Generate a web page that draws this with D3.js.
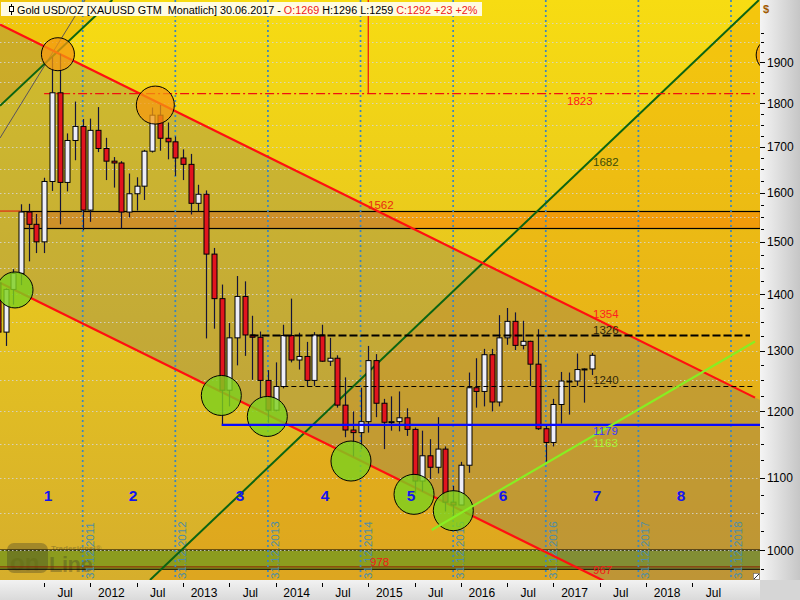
<!DOCTYPE html>
<html><head><meta charset="utf-8">
<script src="https://cdn.jsdelivr.net/npm/d3@7"></script>
<style>html,body{margin:0;padding:0;background:#fff;overflow:hidden}svg{display:block;font-family:"Liberation Sans",Arial,sans-serif}</style>
</head><body><svg id="c" width="800" height="600"></svg>
<script>
// ---------------- DATA ----------------
const months = ["2011-01","2011-02","2011-03","2011-04","2011-05","2011-06","2011-07","2011-08","2011-09","2011-10","2011-11","2011-12",
"2012-01","2012-02","2012-03","2012-04","2012-05","2012-06","2012-07","2012-08","2012-09","2012-10","2012-11","2012-12",
"2013-01","2013-02","2013-03","2013-04","2013-05","2013-06","2013-07","2013-08","2013-09","2013-10","2013-11","2013-12",
"2014-01","2014-02","2014-03","2014-04","2014-05","2014-06","2014-07","2014-08","2014-09","2014-10","2014-11","2014-12",
"2015-01","2015-02","2015-03","2015-04","2015-05","2015-06","2015-07","2015-08","2015-09","2015-10","2015-11","2015-12",
"2016-01","2016-02","2016-03","2016-04","2016-05","2016-06","2016-07","2016-08","2016-09","2016-10","2016-11","2016-12",
"2017-01","2017-02","2017-03","2017-04","2017-05","2017-06"];
const open  = [1421,1332,1409,1439,1560,1535,1500,1624,1825,1622,1714,1746, 1564,1737,1696,1668,1664,1560,1598,1614,1690,1772,1719,1711,
               1675,1661,1578,1597,1476,1392,1234,1322,1396,1327,1323,1250, 1202,1240,1326,1284,1290,1250,1327,1282,1287,1210,1171,1167,
               1184,1283,1213,1183,1184,1190,1172,1095,1132,1115,1142,1065, 1061,1118,1238,1232,1293,1215,1322,1351,1309,1316,1277,1173,
               1152,1211,1249,1249,1268,1269];
const high  = [1424,1411,1447,1576,1577,1556,1632,1913,1921,1730,1804,1763, 1764,1791,1720,1677,1668,1641,1633,1693,1790,1796,1755,1723,
               1694,1684,1617,1605,1488,1418,1348,1434,1424,1361,1333,1267, 1280,1345,1392,1331,1315,1332,1345,1322,1292,1255,1200,1238,
               1308,1294,1220,1224,1232,1205,1175,1170,1157,1191,1146,1088, 1123,1263,1287,1303,1303,1362,1375,1367,1352,1317,1337,1180,
               1220,1264,1263,1295,1270,1296];
const low   = [1308,1308,1381,1417,1462,1478,1478,1604,1535,1603,1670,1523, 1540,1688,1627,1611,1527,1549,1563,1585,1687,1691,1672,1636,
               1627,1555,1562,1321,1338,1180,1208,1275,1291,1251,1221,1182, 1200,1237,1280,1268,1240,1241,1281,1274,1206,1160,1131,1142,
               1167,1191,1142,1170,1169,1162,1077,1080,1098,1106,1052,1046, 1061,1107,1206,1208,1200,1208,1310,1301,1302,1241,1171,1123,
               1146,1181,1195,1241,1214,1259];
const close = [1332,1409,1439,1560,1535,1500,1624,1825,1622,1714,1746,1564, 1737,1696,1668,1664,1560,1598,1614,1690,1772,1719,1711,1675,
               1661,1578,1597,1476,1392,1234,1322,1396,1327,1323,1250,1202, 1240,1326,1284,1290,1250,1327,1282,1287,1210,1171,1167,1184,
               1283,1213,1183,1184,1190,1172,1095,1132,1115,1142,1065,1061, 1118,1238,1232,1293,1215,1322,1351,1309,1316,1277,1173,1152,
               1211,1249,1249,1268,1269,1292];

const yTicks = [1000,1100,1200,1300,1400,1500,1600,1700,1800,1900];
const xTickDates  = ["2011-07","2012-01","2012-07","2013-01","2013-07","2014-01","2014-07","2015-01","2015-07","2016-01","2016-07","2017-01","2017-07","2018-01","2018-07"];
const xTickLabels = ["Jul","2012","Jul","2013","Jul","2014","Jul","2015","Jul","2016","Jul","2017","Jul","2018","Jul"];
const yearEndDates  = ["2011-12","2012-12","2013-12","2014-12","2015-12","2016-12","2017-12","2018-12"];
const yearEndLabels = ["31.12.2011","31.12.2012","31.12.2013","31.12.2014","31.12.2015","31.12.2016","31.12.2017","31.12.2018"];

// horizontal levels
const level1823 = 1823, band1562 = [1527,1562], level1326 = 1326, level1240 = 1240, level1179 = 1179;
const bandGreen = [975,1000], level978 = 978;

// trend lines: [monthIndex, price] endpoints
const upperRed  = [[0.285,1996.6],[98.11,1222.0]];
const lowerRed  = [[0.285,1421.5],[79.35,956.3]];
const greenMain = [[19.72,961.3],[98.62,2062]];
const greenTop  = [[0.285,1794],[14.84,2062]];
const thinLine  = [[0.285,1719.6],[11.3,2062]];
const limeLine  = [[56.22,1026.7],[98.11,1315.6]];

// marker circles: [monthIndex, price]
const orangeCircles = [[7.79,1920],[20.41,1795.7],[100.4,1918]];
const greenCircles  = [[2.23,1408],[28.96,1225.5],[34.92,1192.1],[45.76,1124.2],[53.93,1076.0],[59.02,1053.1]];

// wave numbers
const waveLabels = ["1","2","3","4","5","6","7","8"];
const waveMonths = [6.5,17.52,31.38,42.39,53.54,65.46,77.64,88.53];
const wavePrice = 1066;

// value labels
const valLabels = ["1823","1682","1562","1354","1326","1240","1179","1163","978","967"];

const header = {name:"Gold USD/OZ [XAUUSD GTM  Monatlich] 30.06.2017 - ", o:"O:1269", hl:" H:1296 L:1259 ", c:"C:1292 +23 +2%"};

// ---------------- DRAW ----------------
const W=800,H=600, PW=760, PH=580;
const mi = s => { const [Y,M]=s.split("-").map(Number); return (Y-2011)*12+M-1; };
const x = d3.scaleLinear().domain([11,95]).range([82.7,731]);
const y = d3.scaleLog().domain([1000,2000]).range([550,550-1750*Math.log10(2)]);

const svg = d3.select("#c");
const defs = svg.append("defs");
defs.append("clipPath").attr("id","plot").append("rect").attr("x",0).attr("y",0).attr("width",PW).attr("height",PH);
const bg = defs.append("linearGradient").attr("id","bg").attr("x1",0).attr("y1",0).attr("x2",0).attr("y2",1);
bg.append("stop").attr("offset","0%").attr("stop-color","#f7dc12");
bg.append("stop").attr("offset","100%").attr("stop-color","#d6ae2c");
const ra = defs.append("linearGradient").attr("id","ra").attr("x1",0).attr("y1",0).attr("x2",1).attr("y2",0);
ra.append("stop").attr("offset","0%").attr("stop-color","#f4f4f4");
ra.append("stop").attr("offset","100%").attr("stop-color","#c6c6c6");
const ba = defs.append("linearGradient").attr("id","ba").attr("x1",0).attr("y1",0).attr("x2",0).attr("y2",1);
ba.append("stop").attr("offset","0%").attr("stop-color","#f2f2f2");
ba.append("stop").attr("offset","100%").attr("stop-color","#dadada");

// axes backgrounds
svg.append("rect").attr("x",PW).attr("y",0).attr("width",W-PW).attr("height",H).attr("fill","url(#ra)");
svg.append("rect").attr("x",0).attr("y",PH).attr("width",PW).attr("height",H-PH).attr("fill","url(#ba)");
svg.append("rect").attr("x",PW).attr("y",PH).attr("width",W-PW).attr("height",H-PH).attr("fill","#d6d6d6");

const P = svg.append("g").attr("clip-path","url(#plot)");
P.append("rect").attr("width",PW).attr("height",PH).attr("fill","url(#bg)");

function seg(s){ const x1=x(s[0][0]),y1=y(s[0][1]),x2=x(s[1][0]),y2=y(s[1][1]); const k=(y2-y1)/(x2-x1);
  return {x1,y1,x2,y2,k,f:X=>y1+k*(X-x1),inv:Y=>x1+(Y-y1)/k}; }
const U=seg(upperRed), L=seg(lowerRed), G=seg(greenMain), T=seg(greenTop), S=seg(thinLine), Li=seg(limeLine);
const poly = pts => "M"+pts.map(p=>p.join(",")).join("L")+"Z";

// orange band (1527-1562)
const bx0 = x(mi("2011-04"));
P.append("rect").attr("x",bx0).attr("y",y(band1562[1])).attr("width",PW-bx0).attr("height",y(band1562[0])-y(band1562[1]))
 .attr("fill","#f29a0e").attr("opacity",0.9);
// outside green channel -> orange tint
P.append("path").attr("d",poly([[G.inv(-20),-20],[820,-20],[820,620],[G.inv(620),620]])).attr("fill","#f09000").attr("opacity",0.27);
P.append("path").attr("d",poly([[-20,-20],[T.inv(-20),-20],[-20,T.f(-20)]])).attr("fill","#e09000").attr("opacity",0.27);
// green band bottom
P.append("rect").attr("x",0).attr("y",y(bandGreen[1])).attr("width",PW).attr("height",y(bandGreen[0])-y(bandGreen[1]))
 .attr("fill","#8c9c1e");
// red channel -> grey tint
P.append("path").attr("d",poly([[-20,U.f(-20)],[820,U.f(820)],[820,L.f(820)],[-20,L.f(-20)]])).attr("fill","#646478").attr("opacity",0.25);

// watermark
const wm = P.append("g").attr("opacity",0.34);
wm.append("rect").attr("x",7).attr("y",543).attr("width",41).attr("height",30).attr("rx",7).attr("fill","#3c3c28");
wm.append("text").attr("x",10).attr("y",571).attr("font-size",24).attr("font-weight","bold").attr("fill","#2a2a18").text("on");
wm.append("text").attr("x",49).attr("y",572).attr("font-size",22).attr("font-weight","bold").attr("fill","#3c3c28").attr("letter-spacing",-0.5).text("Line");
wm.append("text").attr("x",51).attr("y",551).attr("font-size",8).attr("font-weight","bold").attr("fill","#3c3c28").text("Tradesignal®");

// band borders
P.append("line").attr("x1",0).attr("x2",bx0).attr("y1",y(band1562[1])).attr("y2",y(band1562[1])).attr("stroke","#e01010").attr("stroke-width",1);
P.append("rect").attr("x",bx0+0.5).attr("y",Math.round(y(band1562[1]))+0.5).attr("width",PW-bx0).attr("height",Math.round(y(band1562[0])-y(band1562[1])))
 .attr("fill","none").attr("stroke","#000").attr("stroke-width",1.2);
P.append("line").attr("x1",0).attr("x2",PW).attr("y1",y(bandGreen[1])).attr("y2",y(bandGreen[1])).attr("stroke","#000").attr("stroke-width",1.2);
P.append("line").attr("x1",0).attr("x2",PW).attr("y1",y(bandGreen[0])).attr("y2",y(bandGreen[0])).attr("stroke","#000").attr("stroke-width",1.2);
P.append("line").attr("x1",0).attr("x2",PW).attr("y1",y(level978)).attr("y2",y(level978)).attr("stroke","#8a1a00").attr("stroke-width",1);

// horizontal dotted grid every 50
const grid = d3.range(1000,2001,50);
P.selectAll("line.hg").data(grid).join("line").attr("class","hg")
 .attr("x1",0).attr("x2",PW).attr("y1",d=>Math.round(y(d))+0.5).attr("y2",d=>Math.round(y(d))+0.5)
 .attr("stroke","#d6d6d2").attr("stroke-width",1).attr("stroke-dasharray","1.5,2.5").attr("opacity",0.85);

// year-end dotted verticals + rotated labels
P.selectAll("line.ye").data(yearEndDates).join("line").attr("class","ye")
 .attr("x1",d=>x(mi(d))).attr("x2",d=>x(mi(d))).attr("y1",0).attr("y2",PH)
 .attr("stroke","#3a86c2").attr("stroke-width",1.7).attr("stroke-dasharray","2,3");
P.selectAll("text.ye").data(yearEndDates).join("text").attr("class","ye")
 .attr("transform",d=>`translate(${x(mi(d))+11},579) rotate(-90)`)
 .attr("font-size",11.5).attr("fill","#4f8ea6").text((d,i)=>yearEndLabels[i]);

// trend lines under candles
const drawSeg=(s,col,w)=>P.append("line").attr("x1",s.x1).attr("y1",s.y1).attr("x2",s.x2).attr("y2",s.y2).attr("stroke",col).attr("stroke-width",w);
drawSeg(S,"#3a3a6a",0.8);
drawSeg(T,"#0b6412",2);
drawSeg(G,"#0b6412",2);
drawSeg(U,"#ff1010",2.2);
drawSeg(L,"#ff1010",2.2);

// 1823 dash-dot and red vertical
P.append("line").attr("x1",x(mi("2011-07"))).attr("x2",755).attr("y1",y(level1823)).attr("y2",y(level1823))
 .attr("stroke","#f01010").attr("stroke-width",1.2).attr("stroke-dasharray","9,3,2,3");
P.append("line").attr("x1",x(mi("2015-01"))).attr("x2",x(mi("2015-01"))).attr("y1",0).attr("y2",y(level1823))
 .attr("stroke","#f01010").attr("stroke-width",1.2);

// candles
const idx = d3.range(months.length);
const C = P.append("g");
C.selectAll("line.w").data(idx).join("line").attr("class","w")
 .attr("x1",i=>Math.round(x(i))+0.5).attr("x2",i=>Math.round(x(i))+0.5)
 .attr("y1",i=>y(high[i])).attr("y2",i=>y(low[i])).attr("stroke","#14143a").attr("stroke-width",1.2);
C.selectAll("rect.b").data(idx).join("rect").attr("class","b")
 .attr("x",i=>Math.round(x(i))-2).attr("width",5)
 .attr("y",i=>y(Math.max(open[i],close[i])))
 .attr("height",i=>Math.max(1,y(Math.min(open[i],close[i]))-y(Math.max(open[i],close[i]))))
 .attr("fill",i=>close[i]>open[i]?"#eeeef8":(close[i]<open[i]?"#e2141e":"#14143a"))
 .attr("stroke","#000").attr("stroke-width",1);

// circles
P.selectAll("circle.o").data(orangeCircles).join("circle").attr("class","o")
 .attr("cx",d=>x(d[0])).attr("cy",d=>y(d[1])).attr("r",(d,i)=>i===1?19:16.5)
 .attr("fill","#f49a12").attr("fill-opacity",0.75).attr("stroke","#000").attr("stroke-width",1);
P.selectAll("circle.g").data(greenCircles).join("circle").attr("class","g")
 .attr("cx",d=>x(d[0])).attr("cy",d=>y(d[1])).attr("r",(d,i)=>i===0?18:20)
 .attr("fill","#7ed01e").attr("fill-opacity",0.82).attr("stroke","#000").attr("stroke-width",1);

// level lines on top
P.append("line").attr("x1",x(mi("2013-06"))).attr("x2",PW).attr("y1",y(level1179)).attr("y2",y(level1179)).attr("stroke","#0a0aff").attr("stroke-width",2.2);
P.append("line").attr("x1",x(mi("2013-10"))-2).attr("x2",750).attr("y1",y(level1326)).attr("y2",y(level1326))
 .attr("stroke","#000").attr("stroke-width",2).attr("stroke-dasharray","8,3");
P.append("line").attr("x1",x(mi("2014-02"))).attr("x2",755).attr("y1",y(level1240)).attr("y2",y(level1240))
 .attr("stroke","#000").attr("stroke-width",1).attr("stroke-dasharray","5,3");
drawSeg(Li,"#88ee22",2.2);

// wave numbers
P.selectAll("text.wv").data(waveLabels).join("text").attr("class","wv")
 .attr("x",(d,i)=>x(waveMonths[i])).attr("y",y(wavePrice)).attr("text-anchor","middle")
 .attr("font-size",15.5).attr("font-weight","bold").attr("fill","#1414f0").text(d=>d);

// value labels
const cur = x(months.length-1);
const vlPos = {
 "1823":{x:567,y:y(level1823)+11.5,c:"#ff1a1a"},
 "1682":{x:cur+1,y:166,c:"#3c4c08"},
 "1562":{x:368,y:y(band1562[1])-2,c:"#e82a10"},
 "1354":{x:cur+1,y:318,c:"#ff2020"},
 "1326":{x:cur+1,y:y(level1326)-1.5,c:"#302808"},
 "1240":{x:cur+1,y:y(level1240)-2.5,c:"#302808"},
 "1179":{x:cur+1,y:y(level1179)+10.5,c:"#3a3aff"},
 "1163":{x:cur+1,y:y(level1179)+22,c:"#a6f432"},
 "978":{x:370,y:y(level978)-1,c:"#f01818"},
 "967":{x:cur+1,y:574,c:"#f01818"}};
P.selectAll("text.vl").data(valLabels).join("text").attr("class","vl")
 .attr("x",d=>vlPos[d].x).attr("y",d=>vlPos[d].y).attr("fill",d=>vlPos[d].c)
 .attr("font-size",11.5).text(d=>d);

// header
const hg = svg.append("g");
hg.append("rect").attr("x",1).attr("y",2).attr("width",481).attr("height",14).attr("fill","#fffbe2");
hg.append("line").attr("x1",11.5).attr("x2",11.5).attr("y1",4).attr("y2",15).attr("stroke","#000");
hg.append("rect").attr("x",9.5).attr("y",6.5).attr("width",4).attr("height",5).attr("fill","#fff").attr("stroke","#000");
const ht = hg.append("text").attr("x",17).attr("y",13.5).attr("font-size",12).attr("xml:space","preserve").style("white-space","pre");
ht.append("tspan").attr("fill","#000").text(header.name);
ht.append("tspan").attr("fill","#f01818").text(header.o);
ht.append("tspan").attr("fill","#000").text(header.hl);
ht.append("tspan").attr("fill","#f01818").text(header.c);
const tw = ht.node().getComputedTextLength();
ht.attr("font-size",12*461/tw);

// right axis
const RA = svg.append("g");
RA.selectAll("line.mj").data(yTicks).join("line").attr("class","mj")
 .attr("x1",PW).attr("x2",PW+5).attr("y1",d=>Math.round(y(d))+0.5).attr("y2",d=>Math.round(y(d))+0.5).attr("stroke","#000");
RA.selectAll("line.mn").data(d3.range(975,2001,25).filter(v=>v%100!==0)).join("line").attr("class","mn")
 .attr("x1",PW+1).attr("x2",PW+4).attr("y1",d=>Math.round(y(d))+0.5).attr("y2",d=>Math.round(y(d))+0.5).attr("stroke","#000");
RA.selectAll("text").data(yTicks).join("text").attr("x",PW+7).attr("y",d=>y(d)+4.5)
 .attr("font-size",12).attr("fill","#000").text(d=>d);
RA.append("text").attr("x",PW+3).attr("y",13).attr("font-size",11).attr("font-weight","bold").attr("fill","#a05a00").text("$");

// bottom axis
const BA = svg.append("g");
BA.selectAll("line").data(xTickDates).join("line").attr("x1",d=>Math.round(x(mi(d)))+0.5).attr("x2",d=>Math.round(x(mi(d)))+0.5)
 .attr("y1",PH+3).attr("y2",PH+7).attr("stroke","#000");
BA.selectAll("text").data(xTickDates).join("text").attr("x",d=>x(mi(d))+21).attr("y",PH+17).attr("text-anchor","middle")
 .attr("font-size",12).attr("fill","#000").text((d,i)=>xTickLabels[i]);

// resize grip
svg.append("rect").attr("x",753.5).attr("y",573.5).attr("width",6).attr("height",6).attr("fill","#fff").attr("stroke","#666").attr("stroke-width",0.6);
svg.append("line").attr("x1",754).attr("y1",579).attr("x2",759).attr("y2",574).attr("stroke","#333");
</script></body></html>
